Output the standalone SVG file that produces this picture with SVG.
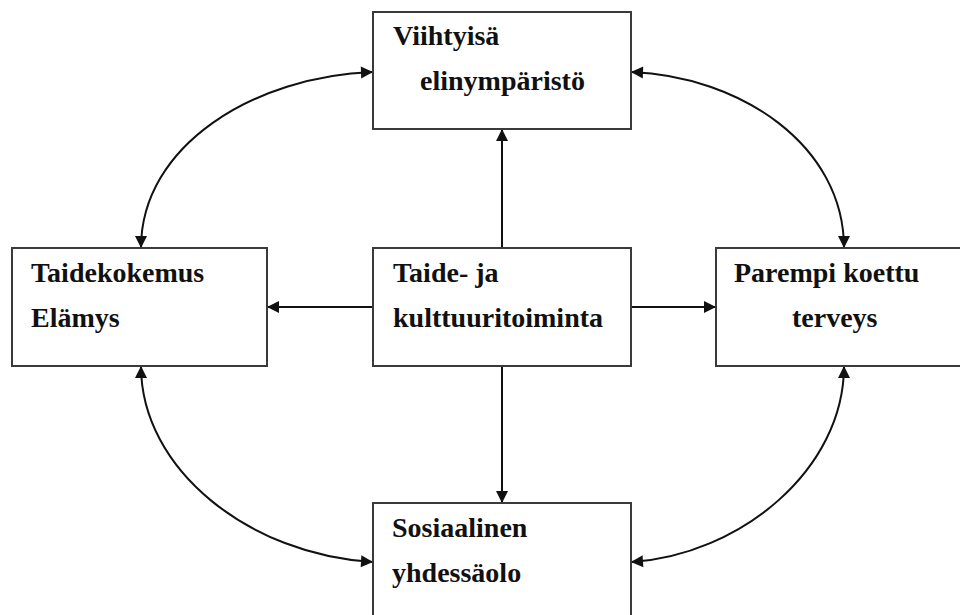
<svg xmlns="http://www.w3.org/2000/svg" width="960" height="615" viewBox="0 0 960 615">
<style>
.box{fill:#fff;stroke:#3a3a3a;stroke-width:2}
.t{font-family:"Liberation Serif","Times New Roman",serif;font-weight:bold;font-size:28px;fill:#111}
.c{fill:none;stroke:#111;stroke-width:2}
</style>
<defs>
<marker id="ah" markerUnits="userSpaceOnUse" markerWidth="14" markerHeight="14" viewBox="0 0 14 14" refX="13" refY="7" orient="auto-start-reverse">
<path d="M1,1 L13,7 L1,13 Z" fill="#111"/>
</marker>
</defs>
<rect width="960" height="615" fill="#fff"/>
<g id="connectors">
<path class="c" d="M141,248 C141,145 255,76 373,72" marker-start="url(#ah)" marker-end="url(#ah)"/>
<path class="c" d="M631,72 C740,76 844,145 844,248" marker-start="url(#ah)" marker-end="url(#ah)"/>
<path class="c" d="M141,366 C141,470 250,555 373,562" marker-start="url(#ah)" marker-end="url(#ah)"/>
<path class="c" d="M844,366 C844,470 740,555 631,562" marker-start="url(#ah)" marker-end="url(#ah)"/>
<path class="c" d="M502,248 L502,129" marker-end="url(#ah)"/>
<path class="c" d="M373,307 L267,307" marker-end="url(#ah)"/>
<path class="c" d="M631,307 L716,307" marker-end="url(#ah)"/>
<path class="c" d="M502,366 L502,503" marker-end="url(#ah)"/>
</g>
<g id="top">
<rect class="box" x="373" y="12" width="258" height="117"/>
<text class="t" x="393" y="45">Viihtyisä</text>
<text class="t" x="420" y="90">elinympäristö</text>
</g>
<g id="left">
<rect class="box" x="12" y="248" width="255" height="118"/>
<text class="t" x="31" y="282">Taidekokemus</text>
<text class="t" x="31" y="327">Elämys</text>
</g>
<g id="center">
<rect class="box" x="373" y="248" width="258" height="118"/>
<text class="t" x="393" y="282">Taide- ja</text>
<text class="t" x="393" y="327">kulttuuritoiminta</text>
</g>
<g id="right">
<rect class="box" x="716" y="248" width="260" height="118"/>
<text class="t" x="734" y="282">Parempi koettu</text>
<text class="t" x="792" y="327">terveys</text>
</g>
<g id="bottom">
<rect class="box" x="373" y="503" width="258" height="130"/>
<text class="t" x="392" y="537">Sosiaalinen</text>
<text class="t" x="392" y="582">yhdessäolo</text>
</g>
</svg>
